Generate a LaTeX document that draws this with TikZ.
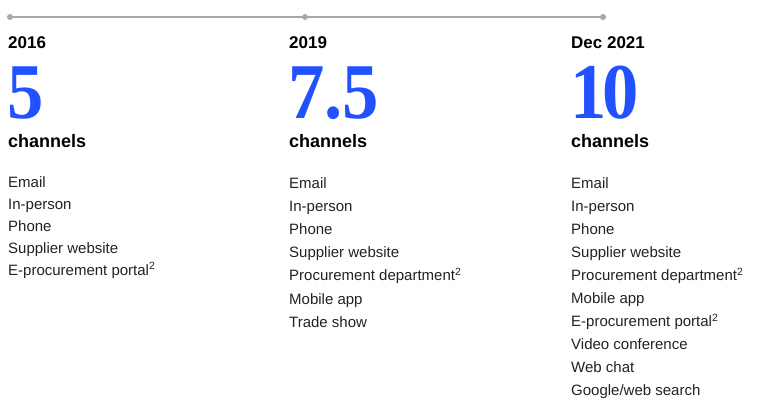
\documentclass[tikz,border=0pt]{standalone}
\usepackage{fontspec}
\setmainfont{Liberation Sans}
\newfontfamily\numfont[FakeStretch=0.92]{Liberation Serif}
\definecolor{mblue}{HTML}{2251FF}
\definecolor{tline}{HTML}{A8A8A8}
\definecolor{itemc}{HTML}{222222}
\begin{document}
\begin{tikzpicture}[x=1pt,y=-1pt,
  dotnode/.style={circle,fill=tline,inner sep=0pt,minimum size=6pt},
  yearlbl/.style={anchor=base west,inner sep=0pt,font=\fontsize{17}{20}\selectfont\bfseries},
  bignum/.style={anchor=base west,inner sep=0pt,text depth=0pt,text=mblue,font=\fontsize{79}{90}\selectfont\numfont\bfseries},
  chanlbl/.style={anchor=base west,inner sep=0pt,font=\fontsize{18}{21}\selectfont\bfseries},
  itemlbl/.style={anchor=base west,inner sep=0pt,text=itemc,font=\fontsize{15}{18}\selectfont}]
\useasboundingbox (0,0) rectangle (766,413);
% timeline
\node[dotnode] (d1) at (10,17) {};
\node[dotnode] (d2) at (305,17) {};
\node[dotnode] (d3) at (603,17) {};
\draw[tline,line width=1.2pt] (d1.center) -- (d2.center) -- (d3.center);
% column 1
\node[yearlbl] (y1) at (8,48) {2016};
\node[bignum] (n1) at (7,118) {5};
\node[chanlbl] (c1) at (8,147) {channels};
\foreach \t [count=\i] in {Email,In-person,Phone,Supplier website,E-procurement portal\textsuperscript{2}}
  \node[itemlbl] (a\i) at (8,187+22*\i-22) {\t};
% column 2
\node[yearlbl] (y2) at (289,48) {2019};
\node[bignum] (n2) at (288,118) {7.5};
\node[chanlbl] (c2) at (289,147) {channels};
\foreach \t [count=\i] in {Email,In-person,Phone,Supplier website,Procurement department\textsuperscript{2},Mobile app,Trade show}
  \node[itemlbl] (b\i) at (289,188+23.2*\i-23.2) {\t};
% column 3
\node[yearlbl] (y3) at (571,48) {Dec 2021};
\node[bignum] (n3) at (570,118) {1\kern-4pt0};
\node[chanlbl] (c3) at (571,147) {channels};
\foreach \t [count=\i] in {Email,In-person,Phone,Supplier website,Procurement department\textsuperscript{2},Mobile app,E-procurement portal\textsuperscript{2},Video conference,Web chat,Google/web search}
  \node[itemlbl] (e\i) at (571,188+23.1*\i-23.1) {\t};
\end{tikzpicture}
\end{document}
